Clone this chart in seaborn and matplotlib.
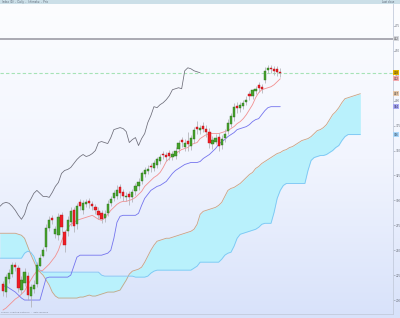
import numpy as np
import pandas as pd
import matplotlib
matplotlib.use("Agg")
import matplotlib.pyplot as plt
import seaborn as sns
from matplotlib.colors import LinearSegmentedColormap
from matplotlib.patches import Rectangle

# ---------------- data ----------------
opens = [216, 208, 221, 226, 235, 232, 210, 217, 224, 204,
         211, 216, 234, 244, 253, 272, 282, 266, 265, 285,
         268, 269, 278, 290, 276, 298, 290, 296, 299, 296,
         293, 289, 287, 282, 287, 297, 302, 304, 313, 308,
         303, 306, 303, 309, 314, 319, 326, 329, 334, 332,
         335, 339, 347, 346, 348, 344, 345, 352, 361, 354,
         360, 355, 362, 374, 371, 375, 372, 369, 357, 359,
         364, 356, 363, 370, 377, 384, 395, 393, 395, 399,
         407, 405, 410, 416, 414, 421, 431, 433, 432, 432, 429]
highs = [219, 226, 231, 238, 238, 235, 224, 232, 228, 216,
         220, 238, 246, 253, 276, 284, 285, 274, 287, 288,
         270, 284, 293, 293, 297, 301, 300, 301, 302, 299,
         296, 293, 290, 290, 300, 304, 310, 315, 316, 311,
         308, 309, 311, 317, 322, 329, 333, 335, 337, 340,
         344, 347, 350, 349, 351, 350, 354, 361, 364, 362,
         369, 366, 374, 380, 376, 379, 376, 373, 365, 367,
         368, 366, 372, 382, 388, 398, 399, 399, 401, 405,
         410, 412, 415, 419, 417, 434, 436, 436, 435, 435, 433]
lows = [204, 203, 217, 223, 229, 208, 206, 214, 200, 193,
        207, 213, 234, 243, 249, 269, 276, 262, 260, 268,
        248, 264, 274, 268, 271, 290, 286, 293, 292, 290,
        286, 281, 277, 278, 284, 294, 299, 301, 302, 299,
        299, 295, 298, 305, 310, 316, 323, 326, 328, 329,
        332, 336, 342, 339, 340, 340, 341, 348, 354, 350,
        350, 351, 358, 367, 367, 369, 364, 353, 352, 357,
        350, 352, 359, 367, 374, 380, 388, 389, 392, 396,
        401, 402, 407, 409, 408, 418, 428, 428, 426, 425, 424]
closes = [209, 223, 227, 235, 233, 212, 220, 228, 205, 213,
          215, 235, 242, 250, 272, 280, 280, 271, 283, 273,
          255, 280, 289, 274, 294, 294, 297, 298, 297, 294,
          290, 285, 281, 286, 296, 301, 307, 310, 307, 304,
          304, 303, 308, 314, 318, 327, 330, 331, 333, 337,
          341, 344, 346, 344, 345, 347, 350, 358, 359, 358,
          357, 363, 371, 372, 373, 372, 369, 358, 361, 363,
          355, 362, 367, 378, 385, 394, 393, 396, 398, 401,
          405, 411, 412, 413, 412, 430, 433, 432, 430, 429, 428]

tenkan = [190, 192, 195, 198, 201, 203, 206, 209, 215, 220,
          225, 229, 229, 230, 233, 236, 240, 244, 250, 259,
          267, 272, 276, 278, 280, 281, 282, 283, 284, 285,
          283, 281, 280, 282, 286, 290, 293, 296, 298, 299,
          299, 300, 301, 303, 306, 309, 314, 317, 320, 323,
          325, 328, 333, 339, 342, 345, 347, 349, 351, 352,
          353, 356, 357, 358, 362, 364, 366, 367, 367, 367,
          367, 368, 369, 370, 372, 374, 377, 379, 382, 386,
          391, 396, 403, 408, 411, 412, 413, 414, 416, 419, 422]
kijun = [214, 214, 212, 210, 208, 205, 202, 200, 200, 200,
         200, 200, 200, 211, 222, 223, 223, 223, 223, 223,
         223, 223, 225, 234, 243, 245, 245, 245, 245, 245,
         245, 245, 245, 246, 247, 250, 262, 278, 284, 285,
         285, 285, 285, 285, 287, 295, 302, 306, 310, 312,
         314, 315, 317, 319, 323, 327, 330, 332, 334, 336,
         337, 338, 338, 338, 339, 342, 344, 346, 349, 352,
         356, 359, 361, 364, 366, 368, 371, 372, 373, 374,
         376, 379, 381, 382, 386, 390, 393, 394, 394, 394, 394]

# leading spans, from one bar before the first candle to 26 bars after the last
senkou_a = [267, 267, 267, 267, 267, 267, 266, 265, 262, 254,
            246, 239, 232, 228, 225, 220, 215, 208, 204, 202,
            202, 202, 202, 202, 202, 202, 203, 203, 204, 205,
            204, 204, 205, 206, 207, 208, 208, 208, 209, 210,
            215, 220, 226, 229, 230, 231, 233, 238, 244, 250,
            255, 259, 260, 261, 262, 262, 263, 264, 265, 266,
            267, 268, 269, 271, 276, 286, 289, 290, 291, 292,
            293, 295, 298, 304, 310, 312, 313, 315, 317, 320,
            323, 326, 328, 332, 334, 337, 339, 341, 343, 345,
            347, 348, 350, 351, 353, 354, 356, 358, 360, 361,
            362, 364, 367, 370, 371, 373, 376, 381, 386, 389,
            393, 398, 402, 403, 404, 405, 406, 407]
senkou_b = [242, 242, 242, 242, 242, 242, 242, 242, 247, 249,
            248, 244, 236, 230, 228, 228, 228, 228, 228, 228,
            228, 228, 228, 228, 228, 228, 228, 228, 228, 228,
            228, 228, 228, 225, 224, 224, 224, 224, 224, 224,
            224, 224, 224, 224, 223, 223, 223, 223, 224, 227,
            229, 230, 230, 230, 230, 230, 230, 230, 230, 230,
            230, 230, 230, 232, 234, 238, 238, 238, 238, 238,
            238, 238, 241, 245, 247, 248, 254, 262, 266, 267,
            268, 269, 270, 271, 273, 276, 277, 277, 277, 288,
            302, 310, 315, 317, 317, 317, 317, 317, 317, 317,
            330, 340, 343, 344, 345, 345, 346, 348, 350, 353,
            355, 360, 364, 366, 366, 366, 366, 366]

lag = 26
ref_line = 462
price_ticks = [200, 225, 250, 275, 300, 325, 350, 375, 400, 425, 450, 475]

# ---------------- figure ----------------
sns.set_theme(style="white")
plt.rcParams['font.family'] = ['DejaVu Sans']

W, H = 400, 318
fig = plt.figure(figsize=(W / 100, H / 100), dpi=100)

# background gradient
bg = fig.add_axes([0, 0, 1, 1])
bg.axis("off")
cmap = LinearSegmentedColormap.from_list("bg", ["#fcfdff", "#f2f5fe", "#d8e2fa"])
bg.imshow(np.linspace(0, 1, 256)[:, None], aspect="auto", cmap=cmap,
          extent=[0, 1, 0, 1], origin="upper")
bg.set_xlim(0, 1)
bg.set_ylim(0, 1)
# header strip
bg.add_patch(Rectangle((0, 1 - 3.5 / H), 1, 3.5 / H, color="#cbdfe8", lw=0))
bg.text(2 / W, 1 - 1.8 / H, "Index (D)  -  Daily  -  Ichimoku  -  Prix",
        fontsize=1.8, color="#556070", va="center", ha="left")
bg.text(1 - 6 / W, 1 - 1.8 / H, "Last close", fontsize=1.8,
        color="#556070", va="center", ha="right")

ax = fig.add_axes([0, 4 / H, 393 / W, 310.5 / H])
ax.set_facecolor("none")

n = len(closes)
idx = np.arange(n)
cloud_x = np.arange(-1, -1 + len(senkou_a))

# cloud
ax.fill_between(cloud_x, senkou_a, senkou_b, color="#b9f1fc", lw=0, zorder=1)
sns.lineplot(x=cloud_x, y=senkou_a, ax=ax, color="#c9a383", lw=0.6, zorder=2)
sns.lineplot(x=cloud_x, y=senkou_b, ax=ax, color="#7cc4f4", lw=0.6, zorder=2)

# reference lines
ax.axhline(ref_line, color="#a3a3ad", lw=1.3, zorder=2)
ax.axhline(closes[-1], color="#a6e3b6", lw=0.8, ls=(0, (3, 2)), zorder=2)

# chikou span
sns.lineplot(x=idx[lag - 1:] - lag, y=closes[lag - 1:], ax=ax,
             color="#6c6c78", lw=0.55, zorder=2)
# tenkan / kijun
sns.lineplot(x=idx, y=tenkan, ax=ax, color="#f29090", lw=0.6, zorder=2)
sns.lineplot(x=idx, y=kijun, ax=ax, color="#7474ee", lw=0.6, zorder=2)

# candles
o = np.array(opens); c = np.array(closes)
hi = np.array(highs); lo = np.array(lows)
up = c >= o
ax.vlines(idx, lo, hi, color="#b0b0b6", lw=0.55, zorder=3)
body_b = np.minimum(o, c)
body_h = np.maximum(np.abs(c - o), 0.9)
ax.bar(idx[up], body_h[up], bottom=body_b[up], width=0.72,
       color="#46a32c", edgecolor="#2e7020", lw=0.3, zorder=4)
ax.bar(idx[~up], body_h[~up], bottom=body_b[~up], width=0.72,
       color="#ef1d25", edgecolor="#b3141a", lw=0.3, zorder=4)

ax.set_xlim(-0.97, 126.6)
ax.set_ylim(186, 497.5)

# axes styling
for s in ["left", "top", "bottom"]:
    ax.spines[s].set_visible(False)
ax.spines["right"].set_color("#c3cbdc")
ax.spines["right"].set_linewidth(0.6)
ax.yaxis.tick_right()
ax.set_yticks(price_ticks)
ax.set_yticklabels([f"{v}" for v in price_ticks])
ax.tick_params(axis="y", length=1.2, width=0.4, colors="#8a8f9a",
               labelsize=2.0, pad=0.5, labelcolor="#6a6f7a")
ax.set_xticks(np.arange(1, 127, 4))
ax.set_xticklabels([])
ax.tick_params(axis="x", length=2.5, width=0.4, colors="#8f95a3", pad=0)
ax.set_xlabel("")
ax.set_ylabel("")
ax.grid(False)
ax.axhline(186, color="#c3cbdc", lw=0.6, zorder=2, clip_on=False)

# coloured value tags on the price axis
tags = [(closes[-1], "#e4b400", "#222222"),
        (tenkan[-1], "#f3aab0", "#333333"),
        (senkou_a[-1], "#e6c8aa", "#333333"),
        (kijun[-1], "#a9a9f4", "#222244"),
        (senkou_b[-1], "#a8d6fa", "#223344")]
for val, fc, tc in tags:
    ax.text(1.002, val, f"{val}", transform=ax.get_yaxis_transform(),
            fontsize=1.9, color=tc, va="center", ha="left",
            bbox=dict(boxstyle="square,pad=0.15", fc=fc, ec="none"),
            clip_on=False, zorder=6)
ax.text(1.002, ref_line, f"{ref_line}", transform=ax.get_yaxis_transform(),
        fontsize=1.9, color="#444444", va="center", ha="left",
        bbox=dict(boxstyle="square,pad=0.15", fc="#d4d6dc", ec="none"),
        clip_on=False, zorder=6)

# footer note
fig.text(1 / W, 1 - 312 / H, "Source: charting platform  -  data delayed",
         fontsize=1.6, color="#7a8090", va="center", ha="left")

fig.savefig("out.png", dpi=100)
